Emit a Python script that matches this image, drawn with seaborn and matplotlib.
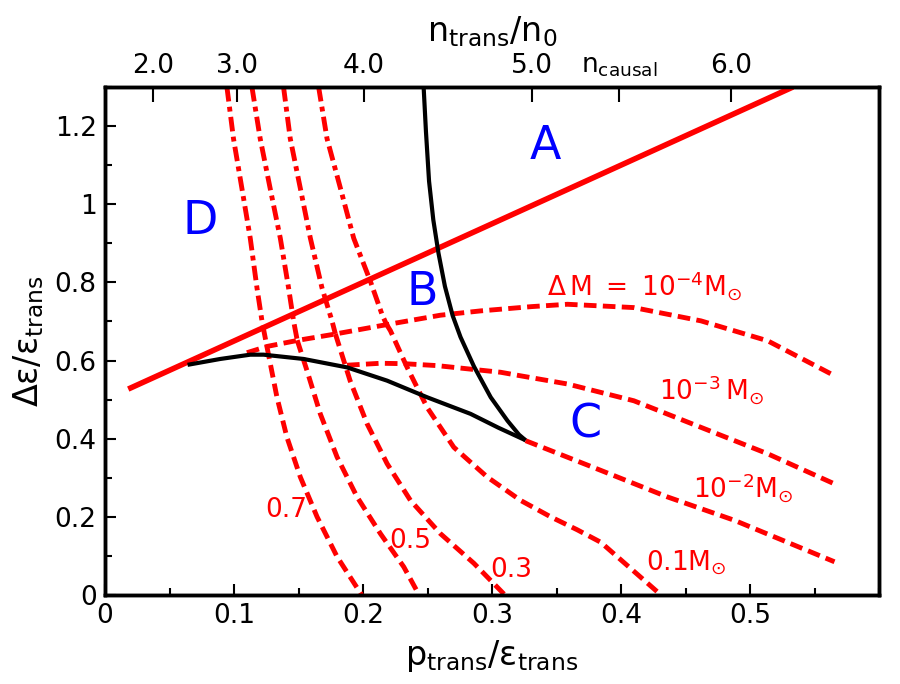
import matplotlib
matplotlib.use("Agg")
import matplotlib.pyplot as plt
import numpy as np
import pandas as pd
import seaborn as sns
from matplotlib.ticker import MultipleLocator

# ---------------- data ----------------
red_x = [0.018, 0.5333]
red_y = [0.527, 1.300]

black_low_x = [0.064, 0.0893, 0.1126, 0.1229, 0.154, 0.1876, 0.2187, 0.2497, 0.2834, 0.305, 0.326]
black_low_y = [0.589, 0.604, 0.615, 0.615, 0.604, 0.5825, 0.5485, 0.506, 0.4635, 0.428, 0.396]

black_up_x = [0.247, 0.2488, 0.2512, 0.2545, 0.2585, 0.2635, 0.2695, 0.2756, 0.286, 0.299, 0.312, 0.321, 0.326]
black_up_y = [1.300, 1.186, 1.059, 0.960, 0.875, 0.790, 0.715, 0.660, 0.585, 0.506, 0.446, 0.410, 0.396]

dm4_x = [0.110, 0.1255, 0.150, 0.177, 0.2135, 0.260, 0.291, 0.3307, 0.3585, 0.410, 0.462, 0.5137, 0.563]
dm4_y = [0.620, 0.636, 0.652, 0.667, 0.689, 0.716, 0.727, 0.738, 0.744, 0.7355, 0.7015, 0.6505, 0.5655]

dm3_x = [0.1876, 0.2135, 0.2316, 0.2575, 0.2834, 0.3067, 0.322, 0.3585, 0.410, 0.462, 0.5137, 0.568]
dm3_y = [0.588, 0.593, 0.592, 0.587, 0.578, 0.570, 0.561, 0.540, 0.497, 0.429, 0.3614, 0.2806]

dm2_x = [0.326, 0.3843, 0.436, 0.488, 0.5655]
dm2_y = [0.395, 0.319, 0.251, 0.191, 0.085]

# constant-mass curves: upper part (dash-dot) and lower part (dashed)
m07_up_x = [0.0945, 0.0996, 0.1061, 0.1126, 0.1178, 0.1217, 0.1255]
m07_up_y = [1.300, 1.168, 1.041, 0.913, 0.786, 0.701, 0.636]
m07_lo_x = [0.1255, 0.1333, 0.141, 0.1514, 0.1644, 0.1799, 0.199]
m07_lo_y = [0.636, 0.506, 0.404, 0.302, 0.200, 0.098, 0.000]

m05_up_x = [0.1139, 0.1203, 0.128, 0.1359, 0.1423, 0.1462, 0.149]
m05_up_y = [1.300, 1.168, 1.041, 0.913, 0.786, 0.701, 0.652]
m05_lo_x = [0.149, 0.1566, 0.1669, 0.1799, 0.1954, 0.2135, 0.2316, 0.2435]
m05_lo_y = [0.652, 0.574, 0.4635, 0.353, 0.251, 0.157, 0.072, 0.000]

m03_up_x = [0.1384, 0.1436, 0.1514, 0.1592, 0.1682, 0.176, 0.1786]
m03_up_y = [1.300, 1.168, 1.041, 0.913, 0.786, 0.701, 0.668]
m03_lo_x = [0.1786, 0.190, 0.2032, 0.2187, 0.2368, 0.260, 0.286, 0.310]
m03_lo_y = [0.668, 0.5485, 0.438, 0.336, 0.242, 0.157, 0.081, 0.000]

m01_up_x = [0.1656, 0.1721, 0.1825, 0.1928, 0.2057, 0.2148, 0.218]
m01_up_y = [1.300, 1.168, 1.041, 0.913, 0.803, 0.7175, 0.694]
m01_lo_x = [0.218, 0.2213, 0.2342, 0.2497, 0.2704, 0.2963, 0.3222, 0.3455, 0.366, 0.3843, 0.431]
m01_lo_y = [0.694, 0.676, 0.5825, 0.480, 0.378, 0.302, 0.242, 0.200, 0.167, 0.135, 0.000]

top_tick_pos = [0.0375, 0.102, 0.2005, 0.331, 0.3985, 0.485]
top_tick_labels = ["2.0", "3.0", "4.0", "5.0", r"$\mathregular{n_{causal}}$", "6.0"]

# ---------------- style ----------------
sns.set_style("white")
plt.rcParams["font.family"] = ["DejaVu Sans"]
plt.rcParams["mathtext.default"] = "regular"
plt.rcParams["text.color"] = "black"
plt.rcParams["axes.labelcolor"] = "black"
plt.rcParams["xtick.color"] = "black"
plt.rcParams["ytick.color"] = "black"
plt.rcParams["lines.solid_capstyle"] = "butt"

RED = "#ff0000"
BLUE = "#0000ff"
DASH = (0, (2.6, 1.3))
DASHDOT = (0, (3.0, 1.1, 1.0, 1.1))

fig = plt.figure(figsize=(9, 6.84), dpi=100)
ax = fig.add_axes([105 / 900, 1 - 595 / 684, (879 - 105) / 900, (595 - 87) / 684])


def draw(x, y, color, lw, ls, z):
    df = pd.DataFrame({"x": x, "y": y})
    sns.lineplot(data=df, x="x", y="y", sort=False, estimator=None, color=color,
                 linewidth=lw, linestyle=ls, ax=ax, zorder=z)


for ux, uy, lx, ly in [(m07_up_x, m07_up_y, m07_lo_x, m07_lo_y),
                       (m05_up_x, m05_up_y, m05_lo_x, m05_lo_y),
                       (m03_up_x, m03_up_y, m03_lo_x, m03_lo_y),
                       (m01_up_x, m01_up_y, m01_lo_x, m01_lo_y)]:
    draw(ux, uy, RED, 3.5, DASHDOT, 2)
    draw(lx, ly, RED, 3.5, DASH, 2)

for cx, cy in [(dm4_x, dm4_y), (dm3_x, dm3_y), (dm2_x, dm2_y)]:
    draw(cx, cy, RED, 3.5, DASH, 2)

draw(red_x, red_y, RED, 4.0, "-", 3)
draw(black_low_x, black_low_y, "black", 3.0, "-", 4)
draw(black_up_x, black_up_y, "black", 3.0, "-", 4)

ax.set_xlim(0, 0.6)
ax.set_ylim(0, 1.3)
ax.set_xticks([0, 0.1, 0.2, 0.3, 0.4, 0.5])
ax.set_xticklabels(["0", "0.1", "0.2", "0.3", "0.4", "0.5"])
ax.set_yticks([0, 0.2, 0.4, 0.6, 0.8, 1.0, 1.2])
ax.set_yticklabels(["0", "0.2", "0.4", "0.6", "0.8", "1", "1.2"])
ax.xaxis.set_minor_locator(MultipleLocator(0.05))
ax.yaxis.set_minor_locator(MultipleLocator(0.1))
ax.tick_params(which="major", direction="in", length=8, width=1.5, labelsize=19,
               bottom=True, left=True, top=False, right=False, pad=6, colors="black")
ax.tick_params(which="minor", direction="in", length=5, width=1.5,
               bottom=True, left=True, top=False, right=False, colors="black")
for s in ax.spines.values():
    s.set_linewidth(2.5)
    s.set_color("black")

ax.set_xlabel(r"$\mathregular{p_{trans}/\varepsilon_{trans}}$", fontsize=24, labelpad=6)
ax.set_ylabel(r"$\mathregular{\Delta\varepsilon/\varepsilon_{trans}}$", fontsize=24, labelpad=6)

ax2 = ax.twiny()
ax2.set_xlim(ax.get_xlim())
ax2.set_xticks(top_tick_pos)
ax2.set_xticklabels(top_tick_labels)
ax2.tick_params(axis="x", which="major", direction="in", length=11, width=1.5, labelsize=19,
                pad=6, top=True, bottom=False, colors="black")
ax2.xaxis.set_minor_locator(plt.NullLocator())
for s in ax2.spines.values():
    s.set_linewidth(2.5)
    s.set_color("black")
ax2.set_xlabel(r"$\mathregular{n_{trans}/n_0}$", fontsize=24, labelpad=8)

# region letters
for lab, lx, ly in [("A", 0.3416, 1.148), ("B", 0.246, 0.774), ("C", 0.3727, 0.434), ("D", 0.0738, 0.957)]:
    ax.text(lx, ly, lab, color=BLUE, fontsize=33, ha="center", va="center", zorder=5)

# curve labels
ax.text(0.1242, 0.200, "0.7", color=RED, fontsize=19, ha="left", va="baseline")
ax.text(0.220, 0.119, "0.5", color=RED, fontsize=19, ha="left", va="baseline")
ax.text(0.299, 0.047, "0.3", color=RED, fontsize=19, ha="left", va="baseline")
ax.text(0.419, 0.064, r"$\mathregular{0.1M_{\odot}}$", color=RED, fontsize=19, ha="left", va="baseline")
ax.text(0.343, 0.765, r"$\mathregular{\Delta\,M\ =\ 10^{-4}M_{\odot}}$", color=RED, fontsize=19,
        ha="left", va="baseline")
ax.text(0.4297, 0.497, r"$\mathregular{10^{-3}\,M_{\odot}}$", color=RED, fontsize=19, ha="left", va="baseline")
ax.text(0.4555, 0.2466, r"$\mathregular{10^{-2}M_{\odot}}$", color=RED, fontsize=19, ha="left", va="baseline")

fig.savefig("out.png", dpi=100)
